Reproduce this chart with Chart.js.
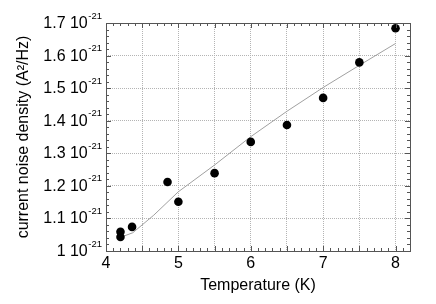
<!DOCTYPE html>
<html>
<head>
<meta charset="utf-8">
<script src="https://cdn.jsdelivr.net/npm/chart.js@4/dist/chart.umd.min.js"></script>
<style>
  html, body { margin: 0; padding: 0; background: #fff; }
  #wrap { width: 436px; height: 304px; }
</style>
</head>
<body>
<div id="wrap"><canvas id="c" width="436" height="304"></canvas></div>
<script>
// Measured points
const tempPoints = [4.2, 4.2, 4.36, 4.85, 5.0, 5.5, 6.0, 6.5, 7.0, 7.5, 8.0];
const noisePoints = [1.059, 1.043, 1.074, 1.212, 1.151, 1.239, 1.335, 1.387, 1.470, 1.579, 1.684];
// Model curve
const tempModel = [4.2, 4.37, 4.66, 5.0, 5.5, 6.0, 6.5, 7.0, 7.5, 8.0];
const noiseModel = [1.042, 1.056, 1.110, 1.182, 1.264, 1.351, 1.429, 1.502, 1.570, 1.637];
// Tick labels
const xTickLabels = ['4', '5', '6', '7', '8'];
const yTickValues = [1.0, 1.1, 1.2, 1.3, 1.4, 1.5, 1.6, 1.7];
const yTickMantissas = ['1', '1.1', '1.2', '1.3', '1.4', '1.5', '1.6', '1.7'];
const yTickExponent = '-21';

const FONT = '"Liberation Sans", Arial, Helvetica, sans-serif';
const isMult = (v, step) => Math.abs(v / step - Math.round(v / step)) < 1e-6;

const framePlugin = {
  id: 'frame',
  afterDraw(chart) {
    const { ctx, chartArea: a, scales } = chart;
    const xs = scales.x, ys = scales.y;
    ctx.save();
    ctx.strokeStyle = '#555';
    ctx.lineWidth = 1;
    ctx.setLineDash([]);
    ctx.strokeRect(Math.round(a.left) + 0.5, Math.round(a.top) + 0.5,
      Math.round(a.right) - Math.round(a.left), Math.round(a.bottom) - Math.round(a.top));
    ctx.beginPath();
    xs.ticks.forEach(t => {
      const px = Math.round(xs.getPixelForValue(t.value)) + 0.5;
      const len = isMult(t.value, 0.5) ? 5 : 3;
      ctx.moveTo(px, a.bottom); ctx.lineTo(px, a.bottom - len);
      ctx.moveTo(px, a.top); ctx.lineTo(px, a.top + len);
    });
    ys.ticks.forEach(t => {
      const py = Math.round(ys.getPixelForValue(t.value)) + 0.5;
      const len = isMult(t.value, 0.1) ? 5 : 3;
      ctx.moveTo(a.left, py); ctx.lineTo(a.left + len, py);
      ctx.moveTo(a.right, py); ctx.lineTo(a.right - len, py);
    });
    ctx.stroke();
    ctx.fillStyle = '#000';
    ctx.textBaseline = 'alphabetic';
    const rightX = a.left - 4;
    yTickValues.forEach((v, i) => {
      const py = ys.getPixelForValue(v);
      ctx.font = '9.5px ' + FONT;
      const w2 = ctx.measureText(yTickExponent).width;
      ctx.textAlign = 'left';
      ctx.fillText(yTickExponent, rightX - w2, py - 4.5);
      ctx.font = '16px ' + FONT;
      ctx.textAlign = 'right';
      ctx.fillText(yTickMantissas[i] + ' 10', rightX - w2 - 0.5, py + 5);
    });
    ctx.restore();
  }
};

new Chart(document.getElementById('c'), {
  type: 'scatter',
  data: {
    datasets: [
      {
        label: 'measured',
        data: tempPoints.map((x, i) => ({ x: x, y: noisePoints[i] })),
        backgroundColor: '#000',
        borderColor: '#000',
        borderWidth: 0,
        pointRadius: 4.3,
        pointHoverRadius: 4.3
      },
      {
        label: 'model',
        data: tempModel.map((x, i) => ({ x: x, y: noiseModel[i] })),
        showLine: true,
        borderColor: '#a0a0a0',
        borderWidth: 1,
        pointRadius: 0,
        tension: 0,
        fill: false
      }
    ]
  },
  options: {
    responsive: false,
    animation: false,
    devicePixelRatio: 1,
    layout: { padding: { top: 23, right: 26, left: 0, bottom: 0 } },
    plugins: { legend: { display: false }, tooltip: { enabled: false } },
    scales: {
      x: {
        type: 'linear',
        min: 4, max: 8.2,
        border: { display: false, dash: [1, 1] },
        grid: {
          drawTicks: false,
          color: c => isMult(c.tick.value, 0.5) ? '#b4b4b4' : 'rgba(0,0,0,0)',
          lineWidth: 1
        },
        ticks: {
          stepSize: 0.1,
          autoSkip: false,
          maxRotation: 0, minRotation: 0,
          padding: 3,
          color: '#000',
          font: { family: FONT, size: 16 },
          callback: v => {
            if (!isMult(v, 1)) return '';
            const s = String(Math.round(v));
            return xTickLabels.includes(s) ? s : '';
          }
        },
        title: {
          display: true,
          text: 'Temperature (K)',
          color: '#000',
          font: { family: FONT, size: 16 },
          padding: { top: 0, bottom: 8.5 }
        },
        afterFit: s => { s.height = 53; }
      },
      y: {
        type: 'linear',
        min: 1.0, max: 1.7,
        border: { display: false, dash: [1, 1] },
        grid: {
          drawTicks: false,
          color: c => isMult(c.tick.value, 0.1) ? '#b4b4b4' : 'rgba(0,0,0,0)',
          lineWidth: 1
        },
        ticks: { stepSize: 0.02, autoSkip: false, display: false },
        title: {
          display: true,
          text: 'current noise density (A²/Hz)',
          color: '#000',
          font: { family: FONT, size: 16 },
          padding: { top: 14, bottom: 0 }
        },
        afterFit: s => { s.width = 106; }
      }
    }
  },
  plugins: [framePlugin]
});
</script>
</body>
</html>
